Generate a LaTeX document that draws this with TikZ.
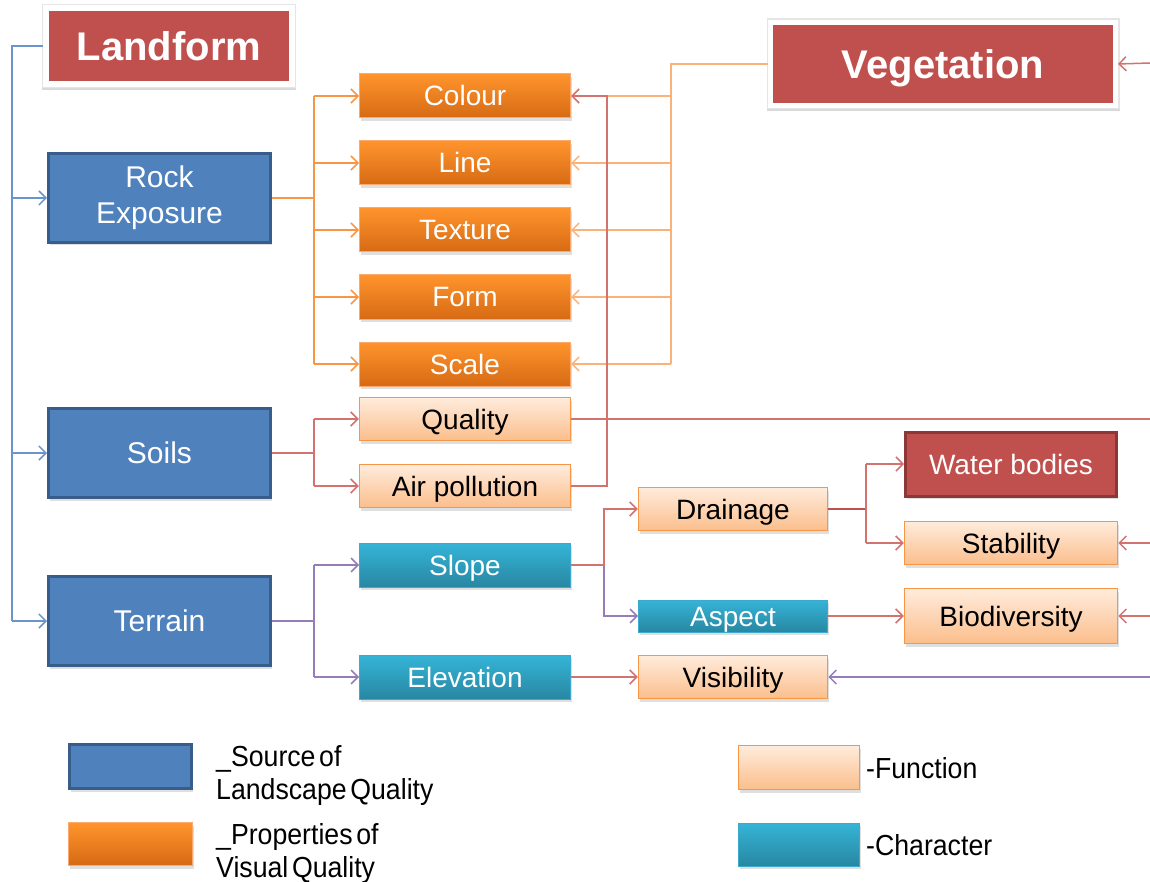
\documentclass[tikz,border=0pt]{standalone}
\usepackage{fontspec}
\setmainfont{Liberation Sans}
\newfontfamily\narrowfont[FakeStretch=0.92,WordSpace=0.5]{Liberation Sans}
\usetikzlibrary{arrows.meta,shadows,calc}
\definecolor{redbox}{HTML}{C0504D}
\definecolor{redborder}{HTML}{8C3836}
\definecolor{bluebox}{HTML}{4F81BD}
\definecolor{blueborder}{HTML}{385D8A}
\definecolor{orangetop}{RGB}{255,148,45}
\definecolor{orangebot}{RGB}{214,106,20}
\definecolor{orangeborder}{RGB}{250,170,110}
\definecolor{peachtop}{RGB}{255,236,220}
\definecolor{peachbot}{RGB}{251,190,140}
\definecolor{peachborder}{RGB}{247,150,70}
\definecolor{cyantop}{RGB}{53,180,215}
\definecolor{cyanbot}{RGB}{40,135,162}
\definecolor{cyanborder}{RGB}{60,170,205}
\definecolor{bluelinec}{RGB}{105,148,205}
\definecolor{orangelinec}{RGB}{247,150,70}
\definecolor{veglinec}{RGB}{250,178,120}
\definecolor{redlinec}{RGB}{210,115,112}
\definecolor{darkredlinec}{RGB}{192,80,77}
\definecolor{purplelinec}{RGB}{150,125,185}
\begin{document}
\begin{tikzpicture}[x=1pt,y=-1pt,
  shd/.style={drop shadow={shadow xshift=1pt,shadow yshift=-3pt,opacity=0.25}},
  oneline/.style={text height=#1, text depth=0pt},
  titlebox/.style={fill=redbox, draw=white, line width=6pt, text=white, oneline=28.6pt,
    font=\fontsize{40}{44}\selectfont\bfseries,
    preaction={draw=black!15, fill=black!15, line width=8pt, transform canvas={yshift=-2pt}},
    preaction={draw=black!10, line width=8pt}},
  srcbox/.style={fill=bluebox, draw=blueborder, line width=3pt, text=white,
    minimum width=222pt, minimum height=89pt, align=center,
    font=\fontsize{30}{36}\selectfont, shd},
  propbox/.style={top color=orangetop, bottom color=orangebot, draw=orangeborder,
    line width=1pt, text=white, minimum width=211pt, minimum height=44pt, oneline=20pt,
    font=\fontsize{28}{32}\selectfont, shd},
  funcbox/.style={top color=peachtop, bottom color=peachbot, draw=peachborder,
    line width=1.5pt, text=black, minimum height=43pt, oneline=20pt,
    font=\fontsize{28}{32}\selectfont, shd},
  charbox/.style={top color=cyantop, bottom color=cyanbot, draw=cyanborder,
    line width=0.8pt, text=white, minimum height=44pt, oneline=20pt,
    font=\fontsize{28}{32}\selectfont, shd},
  waterbox/.style={fill=redbox, draw=redborder, line width=3pt, text=white, oneline=20pt,
    minimum width=211pt, minimum height=64pt, font=\fontsize{28}{32}\selectfont, shd},
  legtext/.style={font=\narrowfont\fontsize{29}{33}\selectfont, align=left, inner sep=0pt},
  con/.style={line width=1.5pt},
  arr/.style={-{Straight Barb[length=7pt,width=14pt,line width=1.5pt]}},
  bl/.style={con, draw=bluelinec},
  ol/.style={con, draw=orangelinec},
  vl/.style={con, draw=veglinec},
  rl/.style={con, draw=redlinec},
  drl/.style={con, line width=2.2pt, draw=darkredlinec},
  pl/.style={con, draw=purplelinec}
]
\useasboundingbox (0,0) rectangle (1150,882);
\fill[white] (0,0) rectangle (1150,882);

% title boxes
\node[titlebox, minimum width=246pt, minimum height=76pt] (land) at (169,46) {Landform};
\node[titlebox, line width=5pt, minimum width=345pt, minimum height=83pt] (veg) at (943,64) {Vegetation};

% sources
\node[srcbox] (rock) at (159.5,198) {Rock\\Exposure};
\node[srcbox, oneline=21.5pt] (soils) at (159.5,453) {Soils};
\node[srcbox, oneline=21.5pt] (terrain) at (159.5,621) {Terrain};

% properties
\node[propbox] (colour) at (465,96) {Colour};
\node[propbox] (line) at (465,163) {Line};
\node[propbox] (texture) at (465,230) {Texture};
\node[propbox] (form) at (465,297) {Form};
\node[propbox] (scale) at (465,364) {Scale};

% functions / characters
\node[funcbox, minimum width=211pt] (quality) at (465,419) {Quality};
\node[funcbox, minimum width=211pt] (air) at (465,486) {Air pollution};
\node[charbox, minimum width=211pt] (slope) at (465,565) {Slope};
\node[charbox, minimum width=211pt] (elev) at (465,677) {Elevation};
\node[funcbox, minimum width=189pt] (drain) at (733,509) {Drainage};
\node[charbox, minimum width=189pt, minimum height=32pt] (aspect) at (733,616) {Aspect};
\node[funcbox, minimum width=189pt] (vis) at (733,677) {Visibility};
\node[waterbox] (water) at (1011,464) {Water bodies};
\node[funcbox, minimum width=213pt] (stab) at (1011,543) {Stability};
\node[funcbox, minimum width=213pt, minimum height=55pt] (bio) at (1011,616) {Biodiversity};

% bus coordinates
\coordinate (bx) at (12,0);
\coordinate (ox) at (314,0);
\coordinate (vx) at (671,0);
\coordinate (ax) at (607,0);
\coordinate (slx) at (604,0);
\coordinate (dx) at (866,0);
\coordinate (eveg) at (1150,63);
\coordinate (equal) at (1150,419);
\coordinate (estab) at (1150,543);
\coordinate (ebio) at (1150,616);
\coordinate (evis) at (1150,677);

% landform bus
\draw[bl] (land.west) -| (bx |- terrain.west);
\draw[bl,arr] (bx |- rock.west) -- (rock.west);
\draw[bl,arr] (bx |- soils.west) -- (soils.west);
\draw[bl,arr] (bx |- terrain.west) -- (terrain.west);

% rock exposure bus
\draw[ol] (rock.east) -- (ox |- rock.east);
\draw[ol] (ox |- colour.west) -- (ox |- scale.west);
\foreach \n in {colour,line,texture,form,scale}
  \draw[ol,arr] (ox |- \n.west) -- (\n.west);

% vegetation bus
\draw[vl] (veg.west) -| (vx |- scale.east);
\foreach \n in {colour,line,texture,form,scale}
  \draw[vl,arr] (vx |- \n.east) -- (\n.east);
\draw[rl,arr] (eveg) -- (veg.east);

% soils
\draw[rl] (soils.east) -- (ox |- soils.east);
\draw[rl] (ox |- quality.west) -- (ox |- air.west);
\draw[rl,arr] (ox |- quality.west) -- (quality.west);
\draw[rl,arr] (ox |- air.west) -- (air.west);
\draw[rl] (quality.east) -- (equal);
\draw[rl,arr] (air.east) -| (ax |- colour.east) -- (colour.east);

% terrain
\draw[pl] (terrain.east) -- (ox |- terrain.east);
\draw[pl] (ox |- slope.west) -- (ox |- elev.west);
\draw[pl,arr] (ox |- slope.west) -- (slope.west);
\draw[pl,arr] (ox |- elev.west) -- (elev.west);

% slope
\draw[pl,arr] (slx |- slope.east) |- (aspect.west);
\draw[rl,arr] (slope.east) -| (slx |- drain.west) -- (drain.west);
\draw[rl,arr] (elev.east) -- (vis.west);
\draw[rl,arr] (aspect.east) -- (bio.west);

% drainage
\draw[drl] (drain.east) -- (dx |- drain.east);
\draw[rl] (dx |- water.west) -- (dx |- stab.west);
\draw[rl,arr] (dx |- water.west) -- (water.west);
\draw[rl,arr] (dx |- stab.west) -- (stab.west);

% right edge inputs
\draw[rl,arr] (estab) -- (stab.east);
\draw[rl,arr] (ebio) -- (bio.east);
\draw[pl,arr] (evis) -- (vis.east);

% legend
\node[srcbox, minimum width=122pt, minimum height=44pt] (lgsrc) at (130.5,766.5) {};
\node[propbox, minimum width=124pt, minimum height=43pt] (lgprop) at (130.5,844) {};
\node[funcbox, minimum width=121pt, minimum height=44pt] (lgfun) at (799,767.5) {};
\node[charbox, minimum width=121pt, minimum height=43pt] (lgchar) at (799,844.5) {};
\node[legtext, anchor=north west] (tsrc) at (216,745) {\_Source of\\Landscape Quality};
\node[legtext, anchor=north west] (tprop) at (216,823) {\_Properties of\\Visual Quality};
\node[legtext, anchor=west] (tfun) at (866,768) {-Function};
\node[legtext, anchor=west] (tchar) at (866,845) {-Character};
\end{tikzpicture}
\end{document}
